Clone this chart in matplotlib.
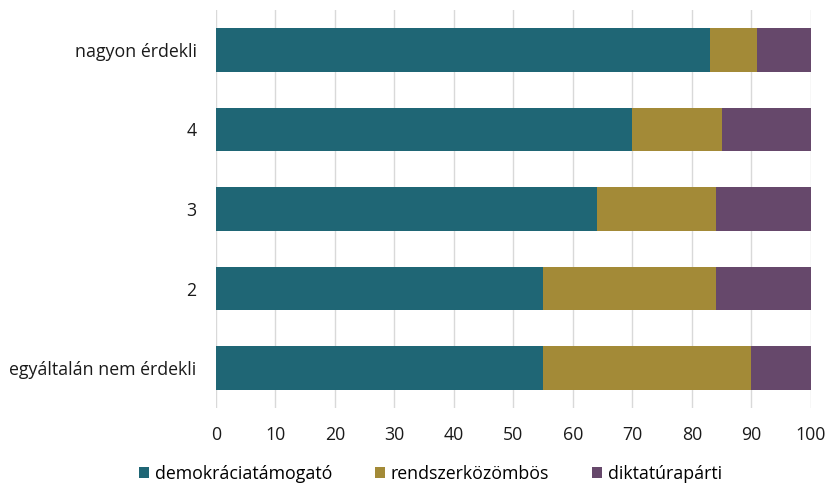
import numpy as np
import matplotlib
matplotlib.use("Agg")
import matplotlib.pyplot as plt

plt.rcParams['font.family'] = ['Open Sans', 'DejaVu Sans']

categories = ["nagyon érdekli", "4", "3", "2", "egyáltalán nem érdekli"]
demokracia = [83, 70, 64, 55, 55]
kozombos = [8, 15, 20, 29, 35]
diktatura = [9, 15, 16, 16, 10]
series_names = ["demokráciatámogató", "rendszerközömbös", "diktatúrapárti"]
colors = ["#1f6675", "#a38a37", "#66486b"]


def main():
    fig = plt.figure(figsize=(8.28, 4.84), dpi=100)
    ax = fig.add_axes([216 / 828, 1 - 408 / 484, (811 - 216) / 828, 398 / 484])

    y = np.arange(len(categories))[::-1]
    left = np.zeros(len(categories))
    for vals, name, c in zip([demokracia, kozombos, diktatura], series_names, colors):
        ax.barh(y, vals, left=left, height=0.55, color=c, label=name, zorder=3)
        left = left + np.array(vals)

    ax.set_xlim(0, 100)
    ax.set_ylim(-0.5, 4.5)
    ax.set_xticks(np.arange(0, 101, 10))
    ax.set_yticks(y)
    ax.set_yticklabels(categories)
    ax.grid(axis="x", color="#d9d9d9", linewidth=1, zorder=0)
    for s in ax.spines.values():
        s.set_visible(False)
    ax.tick_params(length=0, labelsize=12.8, colors="#1a1a1a")
    ax.tick_params(axis="x", pad=13)
    ax.tick_params(axis="y", pad=14)

    ax.legend(loc="center", bbox_to_anchor=(0.36, -0.165), ncol=3, frameon=False,
              fontsize=12.8, handlelength=0.6, handleheight=0.6, handletextpad=0.3,
              columnspacing=2.4)

    fig.savefig("out.png", dpi=100)


if __name__ == "__main__":
    main()
